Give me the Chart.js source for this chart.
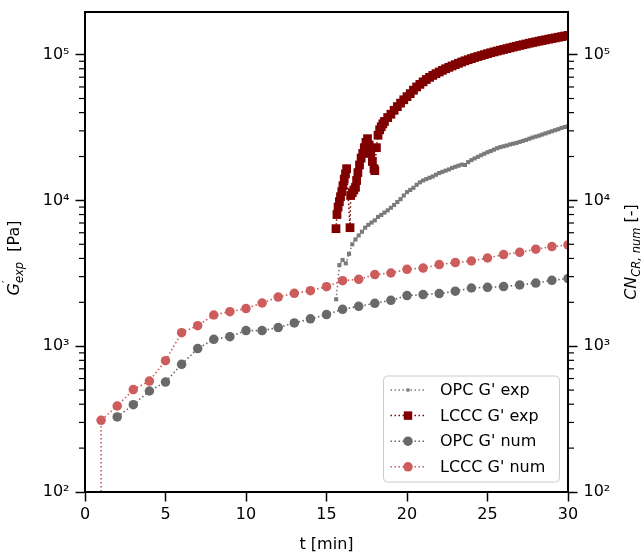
<!DOCTYPE html>
<html>
<head>
<meta charset="utf-8">
<script src="https://cdn.jsdelivr.net/npm/chart.js@4"></script>
<style>
  html, body { margin: 0; padding: 0; background: #fff; }
  #wrap { width: 642px; height: 554px; }
</style>
</head>
<body>
<div id="wrap"><canvas id="chart"></canvas></div>
<script>
const FONT = '"DejaVu Sans", sans-serif';

// experimental G' (rheometer), t in min
const opcExpTimes = [15.6,15.8,16.0,16.2,16.4,16.6,16.8,17.0,17.2,17.4,17.6,17.8,18.0,18.2,18.4,18.6,18.8,19.0,19.2,19.4,
  19.6,19.8,20.0,20.2,20.4,20.6,20.8,21.0,21.2,21.4,21.6,21.8,22.0,22.2,22.4,22.6,22.8,23.0,23.2,23.4,
  23.6,23.8,24.0,24.2,24.4,24.6,24.8,25.0,25.2,25.4,25.6,25.8,26.0,26.2,26.4,26.6,26.8,27.0,27.2,27.4,
  27.6,27.8,28.0,28.2,28.4,28.6,28.8,29.0,29.2,29.4,29.6,29.8,30.0];
const opcExp = [2100,3600,3900,3700,4300,5000,5400,5750,6100,6500,6800,7050,7300,7700,7950,8250,8550,8900,9300,9750,
  10200,10800,11400,11800,12200,12800,13300,13700,14000,14300,14600,15000,15400,15700,16000,16300,16700,17000,17300,17600,
  17500,18300,18900,19400,19900,20400,20900,21400,21800,22300,22800,23200,23500,23800,24200,24500,24800,25200,25600,26000,
  26500,27000,27400,27800,28300,28800,29300,29800,30300,30800,31400,31900,32300];

const lcccExpTimes = [15.59,15.65,15.72,15.8,15.87,15.95,16.02,16.1,16.18,16.25,16.46,16.5,16.6,16.7,16.8,16.87,16.95,17.05,17.15,17.25,
  17.35,17.45,17.55,17.65,17.75,17.85,17.95,18.0,18.1,18.2,18.3,18.4,18.5,18.6,18.8,19.0,19.2,19.4,19.6,19.8,
  20.0,20.2,20.4,20.6,20.8,21.0,21.2,21.4,21.6,21.8,22.0,22.2,22.4,22.6,22.8,23.0,23.2,23.4,23.6,23.8,
  24.0,24.2,24.4,24.6,24.8,25.0,25.2,25.4,25.6,25.8,26.0,26.2,26.4,26.6,26.8,27.0,27.2,27.4,27.6,27.8,
  28.0,28.2,28.4,28.6,28.8,29.0,29.2,29.4,29.6,29.8,30.0];
const lcccExp = [6400,8000,9000,9800,10600,11500,12600,14000,15200,16500,6500,10800,11300,11800,12300,13700,15500,17500,19500,21000,
  23000,25000,26500,24000,21000,18500,16500,16000,23000,28000,30500,32000,33500,34800,37000,39000,41500,44000,46500,49000,
  51500,54000,57000,60000,62500,65000,67500,69800,72000,74000,76000,78000,80000,81800,83600,85400,87200,89000,90700,92300,
  93900,95500,97000,98500,100000,101500,103000,104400,105800,107200,108500,109900,111300,112700,114100,115500,116900,118300,119700,121100,
  122400,123700,125000,126300,127600,128900,130200,131500,132800,134100,135400];

// numerical crosslink number, one value per minute
const opcNumTimes = [2,3,4,5,6,7,8,9,10,11,12,13,14,15,16,17,18,19,20,21,22,23,24,25,26,27,28,29,30];
const opcNum = [327,397,493,568,751,963,1115,1163,1279,1279,1342,1443,1540,1647,1791,1878,1968,2064,2223,2259,
  2296,2383,2507,2535,2565,2631,2712,2830,2911];
// first entry lies below the axis (drawn as the drop line at t = 1)
const lcccNumTimes = [1,1,2,3,4,5,6,7,8,9,10,11,12,13,14,15,16,17,18,19,20,21,22,23,24,25,26,27,28,29,30];
const lcccNum = [1,310,389,504,577,796,1239,1384,1637,1726,1812,1978,2174,2305,2405,2560,2815,2875,3098,3177,
  3368,3436,3628,3744,3840,4027,4249,4406,4625,4823,4946];

const yTicks = [100, 1000, 10000, 100000];
const yTickLabels = ['10²', '10³', '10⁴', '10⁵'];
const xTicks = [0, 5, 10, 15, 20, 25, 30];

const Y_MIN = 100, Y_MAX = 196000;

function pts(times, vals) {
  return times.map((t, i) => ({ x: t, y: vals[i] }));
}

const dash = [1.5, 2.5];

const datasets = [
  { label: "OPC G' exp", data: pts(opcExpTimes, opcExp), yAxisID: 'y', order: 4,
    borderColor: '#7a7a7a', backgroundColor: '#7a7a7a', borderWidth: 1.5, borderDash: dash,
    pointStyle: 'rect', pointRadius: 2.9, pointBackgroundColor: '#7a7a7a', pointBorderWidth: 0, markerR: 2.3 },
  { label: "LCCC G' exp", data: pts(lcccExpTimes, lcccExp), yAxisID: 'y', order: 3,
    borderColor: '#800000', backgroundColor: '#800000', borderWidth: 1.5, borderDash: dash,
    pointStyle: 'rect', pointRadius: 6.2, pointBackgroundColor: '#800000', pointBorderWidth: 0, markerR: 6 },
  { label: "OPC G' num", data: pts(opcNumTimes, opcNum), yAxisID: 'y2', order: 2,
    borderColor: '#696969', backgroundColor: '#696969', borderWidth: 1.6, borderDash: dash,
    pointStyle: 'circle', pointRadius: 4.75, pointBackgroundColor: '#696969', pointBorderWidth: 0, markerR: 4.75 },
  { label: "LCCC G' num", data: pts(lcccNumTimes, lcccNum), yAxisID: 'y2', order: 1,
    borderColor: '#cd5c5c', backgroundColor: '#cd5c5c', borderWidth: 1.6, borderDash: dash,
    pointStyle: 'circle', pointRadius: c => (c.raw && c.raw.y < Y_MIN ? 0 : 4.75),
    pointBackgroundColor: '#cd5c5c', pointBorderWidth: 0, markerR: 4.75 }
];

function logAxis(position, width) {
  return {
    type: 'logarithmic',
    position,
    min: Y_MIN,
    max: Y_MAX,
    afterBuildTicks: s => { s.ticks = yTicks.map(v => ({ value: v })); },
    afterFit: s => { s.width = width; s.paddingTop = 0; s.paddingBottom = 0; },
    ticks: {
      callback: (v, i) => yTickLabels[i],
      font: { family: FONT, size: 16 },
      color: '#000',
      padding: 6
    },
    grid: { drawOnChartArea: false, tickLength: 9.5, tickWidth: 1.5, tickColor: '#000' },
    border: { display: true, color: '#000', width: 2 }
  };
}

function drawRich(ctx, pieces, cx, cy, rot) {
  ctx.save();
  ctx.translate(cx, cy);
  ctx.rotate(rot);
  let total = 0;
  pieces.forEach(p => {
    ctx.font = p.font;
    p.w = p.noAdvance ? 0 : ctx.measureText(p.t).width;
    total += p.w;
  });
  let x = -total / 2;
  ctx.fillStyle = '#000';
  ctx.textBaseline = 'alphabetic';
  pieces.forEach(p => {
    ctx.font = p.font;
    ctx.fillText(p.t, x, p.dy || 0);
    x += p.w;
  });
  ctx.restore();
}

const framePlugin = {
  id: 'frame',
  afterDatasetsDraw(chart) {
    const { ctx, chartArea: a } = chart;
    ctx.save();
    ctx.strokeStyle = '#000';
    ctx.lineWidth = 2;
    ctx.strokeRect(a.left, a.top, a.right - a.left, a.bottom - a.top);

    // minor log ticks on both y axes
    ctx.lineWidth = 1.2;
    ['y', 'y2'].forEach(id => {
      const s = chart.scales[id];
      const out = id === 'y' ? -1 : 1;
      const x0 = id === 'y' ? a.left : a.right;
      for (let e = 2; e <= 5; e++) {
        for (let m = 2; m <= 9; m++) {
          const v = m * Math.pow(10, e);
          if (v > Y_MAX) continue;
          const py = s.getPixelForValue(v);
          ctx.beginPath();
          ctx.moveTo(x0, py);
          ctx.lineTo(x0 + out * 6, py);
          ctx.stroke();
        }
      }
    });
    ctx.restore();
  },
  afterDraw(chart) {
    const { ctx, chartArea: a } = chart;
    const big = '16px ' + FONT, it = 'italic 16px ' + FONT;
    const sub = 'italic 11.5px ' + FONT;
    drawRich(ctx, [
      { t: 'G', font: it },
      { t: '′', font: '11px ' + FONT, dy: -9, noAdvance: true },
      { t: 'exp', font: sub, dy: 4 },
      { t: '  [Pa]', font: big }
    ], 18.5, (a.top + a.bottom) / 2 + 6, -Math.PI / 2);
    drawRich(ctx, [
      { t: 'CN', font: it },
      { t: 'CR, num', font: sub, dy: 4 },
      { t: ' [-]', font: big }
    ], 636, (a.top + a.bottom) / 2, -Math.PI / 2);
    drawRich(ctx, [{ t: 't [min]', font: big }], (a.left + a.right) / 2, 549, 0);

    // legend box, lower right inside the axes
    const w = 176, h = 106;
    const x0 = a.right - 8.5 - w, y0 = a.bottom - 10 - h;
    ctx.save();
    ctx.beginPath();
    ctx.roundRect(x0, y0, w, h, 4);
    ctx.fillStyle = 'rgba(255,255,255,0.8)';
    ctx.fill();
    ctx.strokeStyle = '#cccccc';
    ctx.lineWidth = 1;
    ctx.stroke();
    chart.data.datasets.forEach((ds, i) => {
      const cy = y0 + 14 + i * 25.6;
      ctx.setLineDash(ds.borderDash);
      ctx.strokeStyle = ds.borderColor;
      ctx.lineWidth = ds.borderWidth;
      ctx.beginPath();
      ctx.moveTo(x0 + 7, cy);
      ctx.lineTo(x0 + 42, cy);
      ctx.stroke();
      ctx.setLineDash([]);
      ctx.fillStyle = ds.pointBackgroundColor;
      const r = ds.markerR;
      ctx.beginPath();
      if (ds.pointStyle === 'rect') {
        const s = r * Math.SQRT1_2;
        ctx.rect(x0 + 24.5 - s, cy - s, 2 * s, 2 * s);
      } else {
        ctx.arc(x0 + 24.5, cy, r, 0, Math.PI * 2);
      }
      ctx.fill();
      ctx.fillStyle = '#000';
      ctx.font = '16px ' + FONT;
      ctx.textBaseline = 'middle';
      ctx.fillText(ds.label, x0 + 56.5, cy + 1);
    });
    ctx.restore();
  }
};

new Chart(document.getElementById('chart'), {
  type: 'line',
  data: { datasets },
  options: {
    responsive: true,
    maintainAspectRatio: false,
    animation: false,
    layout: { padding: { top: 12, left: 0, right: 0, bottom: 0 } },
    elements: { line: { tension: 0, borderCapStyle: 'butt' } },
    plugins: { legend: { display: false }, tooltip: { enabled: false } },
    scales: {
      x: {
        type: 'linear',
        min: 0,
        max: 30,
        afterBuildTicks: s => { s.ticks = xTicks.map(v => ({ value: v })); },
        afterFit: s => { s.height = 62; s.paddingLeft = 0; s.paddingRight = 0; },
        ticks: { font: { family: FONT, size: 16 }, color: '#000', padding: 4, maxRotation: 0, autoSkip: false },
        grid: { drawOnChartArea: false, tickLength: 9.5, tickWidth: 1.5, tickColor: '#000' },
        border: { display: true, color: '#000', width: 2 }
      },
      y: logAxis('left', 85),
      y2: logAxis('right', 74)
    }
  },
  plugins: [framePlugin]
});
</script>
</body>
</html>
